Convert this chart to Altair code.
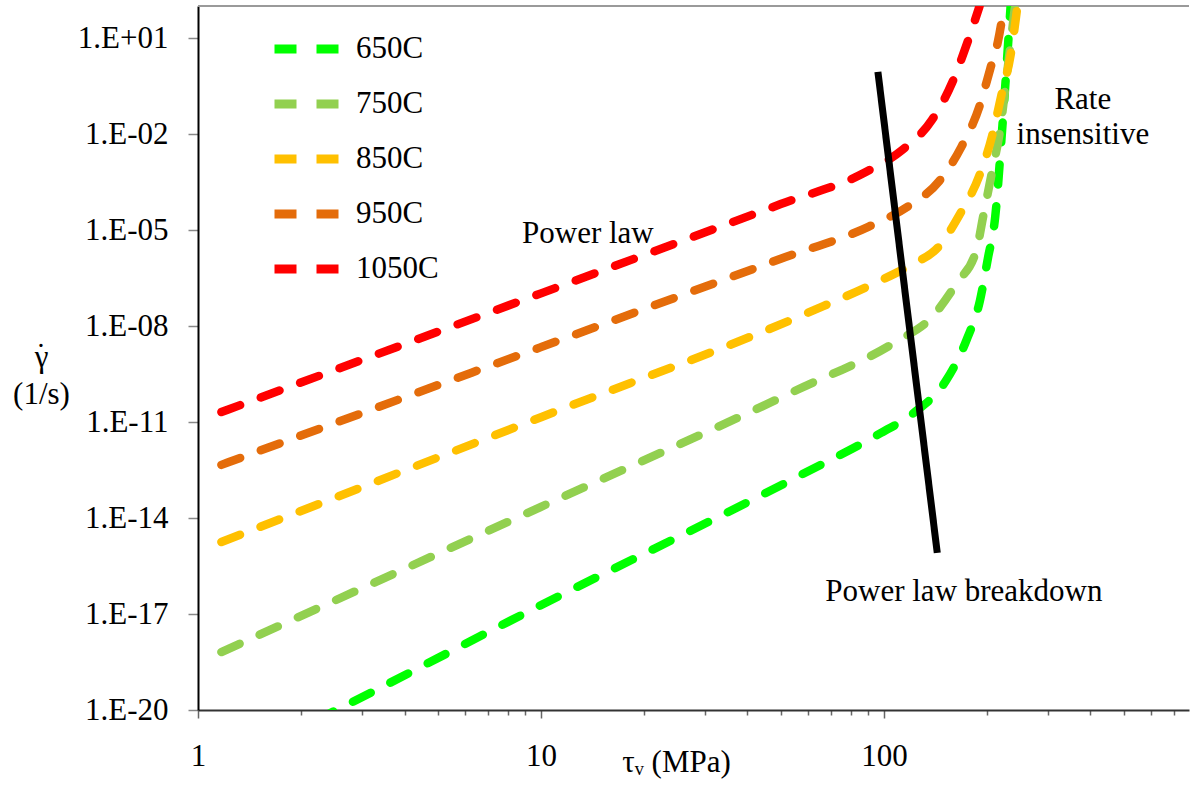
import altair as alt
import pandas as pd

# ---- data (tau in MPa, log10 of strain rate in 1/s) ----
series_names = ["650C", "750C", "850C", "950C", "1050C"]
series_colors = ["#00FF00", "#92D050", "#FFC000", "#E46C0A", "#FF0000"]

tau_650 = [2.2, 2.6, 9.0, 55.7, 98, 122, 152, 174, 190.6, 201, 211, 221, 234]
exp_650 = [-20.33, -19.94, -16.97, -12.72, -11.34, -10.72, -9.69, -8.44, -7.19, -5.875, -4.59, -1.875, 2.0]

tau_750 = [1.17, 10, 55.7, 108, 138, 163, 186, 195, 207, 218, 226, 241]
exp_750 = [-18.19, -13.65, -10.0, -8.5, -7.72, -6.66, -5.625, -4.53, -3.125, -1.875, -0.53, 2.0]

tau_850 = [1.17, 10, 60.8, 94, 120, 145, 166, 190, 207, 220, 234, 245]
exp_850 = [-14.75, -10.85, -7.56, -6.66, -6.09, -5.5, -4.53, -3.28, -2.03, -0.78, 0.47, 2.0]

tau_950 = [1.17, 10, 50, 90, 118, 145, 168, 190, 204, 215, 224]
exp_950 = [-12.34, -8.66, -5.9, -4.9, -4.25, -3.47, -2.41, -1.125, 0.03, 0.9, 2.0]

tau_1050 = [1.17, 10, 50, 88.5, 113, 138, 158, 174, 190]
exp_1050 = [-10.69, -6.98, -4.19, -3.19, -2.5, -1.56, -0.4, 0.78, 2.0]

# black "power law breakdown" line
tau_breakdown = [96, 143]
exp_breakdown = [-0.06, -15.09]

# annotations
note_text = ["Power law", "Rate", "insensitive", "Power law breakdown"]
note_tau = [13.7, 380, 380, 171]
note_exp = [-5.125, -0.94, -2.03, -16.31]

x_ticks = [1, 2, 3, 4, 5, 6, 7, 8, 9, 10, 20, 30, 40, 50, 60, 70, 80, 90,
           100, 200, 300, 400, 500, 600, 700]
y_ticks = [1e-20, 1e-17, 1e-14, 1e-11, 1e-8, 1e-5, 1e-2, 1e1]

# ---- build tables ----
rows = []
for name, taus, exps in [("650C", tau_650, exp_650), ("750C", tau_750, exp_750),
                         ("850C", tau_850, exp_850), ("950C", tau_950, exp_950),
                         ("1050C", tau_1050, exp_1050)]:
    for i, (t, e) in enumerate(zip(taus, exps)):
        rows.append({"series": name, "tau": t, "gamma": 10.0 ** e, "i": i})
df = pd.DataFrame(rows)

df_bd = pd.DataFrame({"tau": tau_breakdown, "gamma": [10.0 ** e for e in exp_breakdown]})
df_note = pd.DataFrame({"label": note_text, "tau": note_tau,
                        "gamma": [10.0 ** e for e in note_exp]})

FONT = "Liberation Serif"

x_scale = alt.Scale(type="log", domain=[1, 775], nice=False)
y_scale = alt.Scale(type="log", domain=[1e-20, 1e2], nice=False)

x_axis = alt.Axis(
    values=x_ticks,
    title="τᵥ (MPa)",
    titleFont=FONT, titleFontSize=31, titleFontWeight="normal", titleColor="black",
    titleX=478, titleY=61, titleBaseline="alphabetic", titleAnchor="start", titleAlign="center",
    labelExpr="(datum.value == 1 || datum.value == 10 || datum.value == 100) ? datum.label : ''",
    labelFont=FONT, labelFontSize=31, labelColor="black", labelPadding=23,
    labelOverlap=False, labelFlush=False, labelBound=False,
    format="d",
    tickSize={"condition": {"test": "datum.value == 1 || datum.value == 10 || datum.value == 100", "value": 8}, "value": 5},
    tickColor="#666666", tickWidth=1.5,
    domainColor="#333333", domainWidth=2, grid=False,
)

y_axis = alt.Axis(
    values=y_ticks,
    title=["γ", "(1/s)"],
    titleFont=FONT, titleFontSize=31, titleFontWeight="normal", titleColor="black",
    titleAngle=0, titleX=-157, titleY=360, titleAlign="center", titleBaseline="alphabetic",
    titleLineHeight=37,
    labelExpr="'1.E' + (round(log(datum.value)/LN10) < 0 ? '-' : '+') + (abs(round(log(datum.value)/LN10)) < 10 ? '0' : '') + abs(round(log(datum.value)/LN10))",
    labelFont=FONT, labelFontSize=31, labelColor="black", labelPadding=20,
    labelOverlap=False, labelFlush=False, labelBound=False,
    tickSize=10, tickColor="#888888", tickWidth=1.5,
    domainColor="black", domainWidth=2, grid=False,
)

lines = alt.Chart(df).mark_line(
    strokeWidth=8.5, strokeDash=[20, 22], strokeCap="round", interpolate="monotone", clip=True
).encode(
    x=alt.X("tau:Q", scale=x_scale, axis=x_axis),
    y=alt.Y("gamma:Q", scale=y_scale, axis=y_axis),
    color=alt.Color(
        "series:N",
        scale=alt.Scale(domain=series_names, range=series_colors),
        legend=alt.Legend(
            title=None, orient="none", legendX=72, legendY=6,
            symbolType="stroke", symbolSize=4225, symbolStrokeWidth=9,
            symbolDash=[22, 20], labelFont=FONT, labelFontSize=31, labelColor="black",
            labelOffset=12, rowPadding=-6, padding=0, labelLimit=300,
        ),
        sort=series_names,
    ),
    detail="series:N",
    order="i:Q",
)

breakdown = alt.Chart(df_bd).mark_line(color="black", strokeWidth=7, clip=True).encode(
    x=alt.X("tau:Q", scale=x_scale),
    y=alt.Y("gamma:Q", scale=y_scale),
)

notes = alt.Chart(df_note).mark_text(
    font=FONT, fontSize=31, color="black", align="center", baseline="middle"
).encode(
    x=alt.X("tau:Q", scale=x_scale),
    y=alt.Y("gamma:Q", scale=y_scale),
    text="label:N",
)

top_border = alt.Chart(df_bd).mark_rule(color="#9a9a9a", strokeWidth=2).encode(
    y=alt.datum(1e2),
)

chart = alt.layer(top_border, lines, breakdown, notes).properties(
    width=991, height=704,
    autosize=alt.AutoSizeParams(type="none"),
    padding={"left": 198, "top": 6, "right": 2, "bottom": 84},
    background="white",
    title=alt.TitleParams(
        text="˙", orient="top", anchor="start", frame="group", align="center",
        baseline="alphabetic", offset=0, dx=-157, dy=391,
        font=FONT, fontSize=31, fontWeight="normal", color="black",
    ),
).configure_view(strokeWidth=0)

chart.save("out.html", embed_options={"renderer": "svg", "actions": False})
